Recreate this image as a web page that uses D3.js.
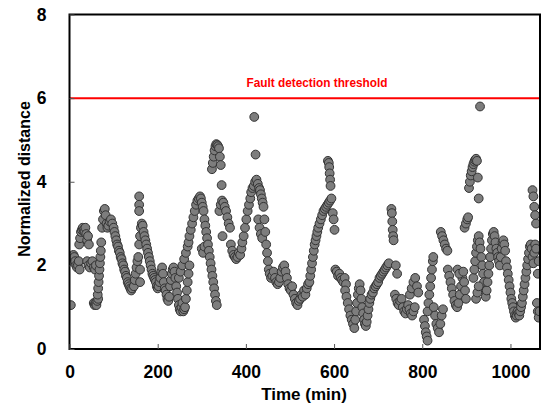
<!DOCTYPE html>
<html>
<head>
<meta charset="utf-8">
<script src="https://cdn.jsdelivr.net/npm/d3@7"></script>
<style>
body { margin: 0; background: #fff; }
text { font-family: "Liberation Sans", Arial, sans-serif; font-weight: bold; }
</style>
</head>
<body>
<script>
// [time (min), normalized distance]
const samples = [
[3,1.05],
[5,2.1],[7,2.2],[9,2.25],[11,2.2],[13,2.1],[15,2.0],[17,1.95],[19,2.0],[21,2.1],[23,1.9],
[22,2.5],[24,2.65],[26,2.8],[28,2.85],[30,2.9],[32,2.85],[34,2.8],[36,2.9],[38,2.75],[40,2.6],[42,2.7],[44,2.5],
[40,2.1],[43,2.0],[46,1.95],[49,2.05],[52,2.1],[55,1.95],[58,1.9],[60,2.0],
[55,1.1],[57,1.05],[59,1.1],[61,1.05],[63,1.15],[65,1.2],
[64,1.3],[65,1.45],[66,1.6],[67,1.75],[68,1.9],[69,2.05],[70,2.2],[71,2.35],[72,2.55],
[74,2.9],[76,3.1],[78,3.3],[80,3.35],[82,3.2],[84,3.0],[86,2.9],
[88,2.95],[91,3.05],[94,3.1],[97,3.0],[100,2.9],[102,2.8],
[104,2.7],[106,2.6],[108,2.5],[110,2.45],[112,2.35],[114,2.3],[116,2.2],[118,2.15],[120,2.05],[122,2.0],
[124,1.9],[126,1.85],[128,1.75],[130,1.7],[132,1.6],[134,1.55],[136,1.5],[138,1.45],[140,1.4],[142,1.45],
[146,1.5],[148,1.65],[150,1.8],[152,1.95],[154,2.1],[156,2.2],
[158,3.65],[158,3.45],[158,3.3],
[158,2.5],[160,2.7],[162,2.9],[164,3.0],[166,2.95],[168,2.8],[170,2.7],
[160,1.6],[160,1.9],
[172,2.6],[174,2.5],[176,2.4],[178,2.3],[180,2.2],[182,2.1],[184,2.0],[186,1.9],[188,1.8],[190,1.75],[192,1.7],[194,1.65],
[196,1.6],[198,1.5],[200,1.45],[202,1.5],[204,1.6],[206,1.7],[208,1.85],[210,1.95],[212,1.8],[214,1.6],[216,1.45],[218,1.4],
[220,1.3],[222,1.2],[224,1.15],[226,1.25],
[228,1.5],[230,1.65],[232,1.8],[234,1.9],[236,1.95],[238,1.85],[240,1.7],
[242,1.5],[244,1.35],[246,1.2],[248,1.05],[250,0.95],[252,0.9],[254,1.0],[256,1.1],[258,0.9],[260,0.95],
[248,1.7],[252,1.85],[256,2.0],[260,2.15],[264,2.3],[268,2.45],[270,2.55],
[262,1.0],[264,1.2],[266,1.4],[268,1.6],[270,1.8],[272,2.0],
[272,2.7],[275,2.85],[278,3.0],[281,3.15],[284,3.3],[287,3.45],[290,3.55],[293,3.6],[296,3.65],[298,3.6],
[300,2.4],[303,2.3],[306,2.45],
[300,3.5],[302,3.4],[304,3.3],[306,3.1],[308,2.95],[310,2.8],
[312,2.65],[314,2.5],[316,2.35],[318,2.2],[320,2.05],[322,1.9],[324,1.75],[326,1.6],[328,1.45],[330,1.3],[332,1.15],[334,1.05],
[323,4.3],[325,4.45],[327,4.6],[329,4.75],[331,4.85],[333,4.9],[335,4.88],[337,4.85],[339,4.8],[341,4.6],[343,4.4],
[345,3.92],
[340,3.3],[343,3.45],[346,3.55],[349,3.5],[352,3.4],[355,3.3],[358,3.15],[361,3.0],[364,2.9],[347,2.7],
[366,2.5],[369,2.35],[372,2.25],[375,2.2],[378,2.15],[381,2.2],[384,2.3],[387,2.25],[390,2.4],
[392,2.55],[395,2.7],[398,2.9],[401,3.1],[404,3.3],[407,3.45],[410,3.6],
[412,3.75],[415,3.85],[418,3.9],[421,4.0],[424,4.05],[427,3.95],[430,3.85],
[419,5.55],[422,4.65],
[432,3.8],[434,3.7],[436,3.6],[438,3.5],[440,3.4],
[428,3.1],[431,2.9],[434,2.75],[437,2.65],
[442,3.1],[444,2.8],[446,2.5],[448,2.3],[450,2.1],[452,1.9],
[454,1.8],[457,1.7],[460,1.75],[463,1.85],[466,1.7],[469,1.6],[472,1.55],[475,1.6],
[478,1.7],[481,1.85],[484,1.95],[487,2.0],[490,1.85],[493,1.7],[496,1.55],[499,1.45],[502,1.4],[505,1.5],
[508,1.3],[511,1.2],[514,1.1],[517,1.05],[520,1.15],[523,1.2],[526,1.3],[529,1.25],[532,1.4],[535,1.3],[538,1.45],[541,1.55],
[544,1.6],[546,1.75],[548,1.9],[550,2.05],[552,2.2],[554,2.35],[556,2.5],[558,2.6],[560,2.7],[562,2.8],
[564,2.9],[567,3.0],[570,3.1],[573,3.2],[576,3.3],[579,3.35],[582,3.4],[585,3.45],[588,3.5],[591,3.55],[594,3.6],
[586,4.5],[588,4.45],[589,4.35],[590,4.2],[591,4.05],[592,3.9],
[597,3.25],[599,3.1],[601,2.85],
[603,1.9],[606,1.85],[609,1.75],[612,1.8],[615,1.7],[618,1.65],[621,1.6],[624,1.7],[627,1.55],
[625,1.4],[628,1.25],[631,1.1],[634,0.95],[637,0.8],[640,0.7],[643,0.6],[646,0.5],
[648,0.7],[650,0.9],[652,1.1],[654,1.3],[656,1.45],[658,1.55],[660,1.4],[662,1.2],[664,1.0],[666,0.85],
[668,0.7],[670,0.6],[672,0.55],[674,0.65],[676,0.8],[678,0.95],[680,1.1],[682,1.2],
[685,1.3],[688,1.35],[691,1.45],[694,1.5],[697,1.55],[700,1.6],[703,1.7],[706,1.75],[709,1.8],[712,1.85],[715,1.9],[718,1.95],[721,2.0],[724,2.05],
[730,3.35],[731,3.25],[732,3.05],[733,2.85],[734,2.7],[735,2.6],
[738,1.3],[741,1.2],[744,1.1],[747,1.05],[750,1.15],[753,1.2],
[740,2.0],[743,1.8],
[756,1.0],[759,0.9],[762,0.85],[765,0.95],[768,1.05],[771,0.95],[774,0.85],[777,0.8],[780,0.9],[783,1.0],
[772,1.3],[776,1.45],[780,1.6],[784,1.7],[788,1.5],[791,1.35],
[804,0.7],[806,0.55],[808,0.4],[810,0.3],[812,0.2],
[812,0.9],[814,1.1],[816,1.3],[818,1.5],[820,1.7],[822,1.9],[824,2.1],[825,2.2],
[826,1.0],[829,0.8],[832,0.6],[835,0.5],[838,0.4],[841,0.6],[844,0.8],[847,0.95],
[842,2.8],[845,2.7],[848,2.6],[851,2.5],[854,2.4],[857,2.35],
[858,1.9],[861,1.75],[864,1.6],[867,1.45],[870,1.3],[873,1.15],[876,1.05],[879,1.0],[882,1.1],[885,1.3],[888,1.5],[891,1.7],
[880,1.9],[884,1.8],[893,1.85],[895,1.6],[897,1.4],[899,1.2],
[896,2.9],[899,3.0],[902,3.1],[904,3.15],
[906,3.85],[908,4.0],[910,4.15],[912,4.25],[914,4.35],[916,4.42],[918,4.48],[920,4.52],[922,4.55],[924,4.5],
[926,4.1],[928,3.6],
[931,5.8],
[916,1.7],[918,1.9],[920,2.1],[922,2.3],[924,2.45],[926,2.6],[928,2.7],[930,2.55],[932,2.4],[934,2.2],
[936,2.0],[938,1.8],[940,1.6],[942,1.4],[944,1.25],[946,1.4],[948,1.6],[950,1.8],[952,2.0],[954,2.2],
[956,2.4],[958,2.6],[960,2.75],[962,2.8],[964,2.7],[966,2.55],[968,2.4],[970,2.3],[972,2.2],[974,2.1],
[976,2.0],[978,2.2],[980,2.4],[982,2.55],[984,2.6],
[922,1.2],[925,1.35],[928,1.5],
[986,2.5],[988,2.35],
[990,2.1],[992,1.95],[994,1.8],[996,1.65],[998,1.5],[1000,1.35],[1002,1.2],[1004,1.1],
[1006,1.0],[1008,0.9],[1010,0.8],[1012,0.75],[1014,0.8],[1016,0.9],[1018,0.85],[1020,0.8],[1022,0.9],[1024,1.0],
[1026,1.1],[1028,1.25],[1030,1.4],[1032,1.55],[1034,1.7],
[1036,1.85],[1038,2.0],[1040,2.15],[1042,2.3],[1044,2.45],[1046,2.5],[1048,2.4],[1050,2.2],[1052,2.05],[1054,2.3],[1056,2.5],[1058,2.4],
[1050,3.8],[1052,3.65],[1054,3.4],[1056,3.2],[1058,3.0],
[1060,1.1],[1062,0.9],[1064,0.75],[1066,0.9],[1062,1.8],[1064,2.1]
];

const xTicks = [0, 200, 400, 600, 800, 1000];
const yTicks = [0, 2, 4, 6, 8];
const xDomain = [0, 1067];
const yDomain = [0, 8];
const threshold = 6;
const thresholdLabel = "Fault detection threshold";
const xTitle = "Time (min)";
const yTitle = "Normalized distance";

const W = 544, H = 406;
const mL = 69.5, mR = 540, mT = 14.5, mB = 349;

const svg = d3.select("body").append("svg")
  .attr("width", W).attr("height", H);

const x = d3.scaleLinear().domain(xDomain).range([mL, mR]);
const y = d3.scaleLinear().domain(yDomain).range([mB, mT]);

svg.append("defs").append("clipPath").attr("id", "plot")
  .append("rect")
  .attr("x", mL).attr("y", mT)
  .attr("width", mR - mL).attr("height", mB - mT);

// threshold
svg.append("line")
  .attr("x1", mL).attr("x2", mR)
  .attr("y1", y(threshold)).attr("y2", y(threshold))
  .attr("stroke", "#ff0000").attr("stroke-width", 2);

svg.append("text")
  .attr("x", 317).attr("y", y(threshold) - 11)
  .attr("text-anchor", "middle")
  .attr("fill", "#ff0000")
  .attr("font-size", 13)
  .attr("textLength", 141)
  .attr("lengthAdjust", "spacingAndGlyphs")
  .text(thresholdLabel);

// points
svg.append("g").attr("clip-path", "url(#plot)")
  .selectAll("circle")
  .data(samples)
  .join("circle")
  .attr("cx", d => x(d[0]))
  .attr("cy", d => y(d[1]))
  .attr("r", 4.4)
  .attr("fill", "#7d7d7d")
  .attr("stroke", "#333")
  .attr("stroke-width", 1);

// frame
svg.append("rect")
  .attr("x", mL).attr("y", mT)
  .attr("width", mR - mL).attr("height", mB - mT)
  .attr("fill", "none")
  .attr("stroke", "#000").attr("stroke-width", 2);

const xAxis = svg.append("g")
  .attr("transform", `translate(0,${mB})`)
  .call(d3.axisBottom(x).tickValues(xTicks).tickFormat(d3.format("d"))
    .tickSizeInner(-5).tickSizeOuter(0).tickPadding(17));
const yAxis = svg.append("g")
  .attr("transform", `translate(${mL},0)`)
  .call(d3.axisLeft(y).tickValues(yTicks).tickFormat(d3.format("d"))
    .tickSizeInner(-5).tickSizeOuter(0).tickPadding(23));

[xAxis, yAxis].forEach(a => {
  a.select(".domain").remove();
  a.selectAll(".tick line").attr("stroke", "#555").attr("stroke-width", 1);
  a.selectAll(".tick text")
    .attr("font-family", "'Liberation Sans', Arial, sans-serif")
    .attr("font-weight", "bold")
    .attr("font-size", 17.5)
    .attr("fill", "#000");
});

svg.append("text")
  .attr("x", 304).attr("y", 400)
  .attr("text-anchor", "middle")
  .attr("font-size", 17)
  .text(xTitle);

svg.append("text")
  .attr("transform", "translate(30,179) rotate(-90)")
  .attr("text-anchor", "middle")
  .attr("font-size", 16)
  .text(yTitle);
</script>
</body>
</html>
